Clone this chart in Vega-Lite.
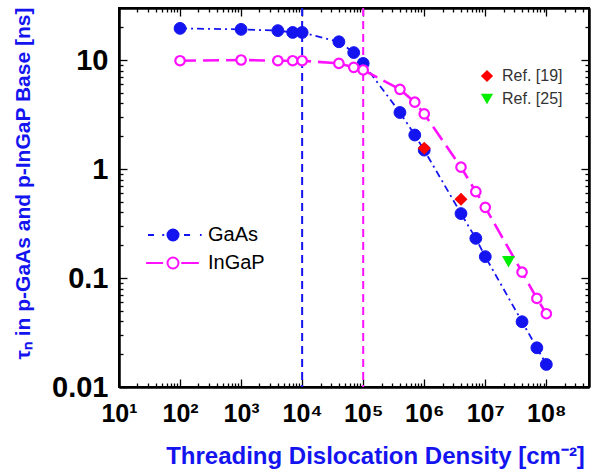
{
  "$schema": "https://vega.github.io/schema/vega-lite/v6.json",
  "width": 470,
  "height": 379,
  "autosize": "none",
  "padding": {"left": 119, "top": 8, "right": 22, "bottom": 89},
  "background": "white",
  "config": {
    "font": "Liberation Sans",
    "view": {"stroke": "black", "strokeWidth": 2},
    "axis": {"grid": false}
  },
  "datasets": {
    "meas": [
      {"series": "GaAs", "density": 100, "tau": 19.5},
      {"series": "GaAs", "density": 1000, "tau": 19.1},
      {"series": "GaAs", "density": 4000, "tau": 18.6},
      {"series": "GaAs", "density": 7000, "tau": 17.9},
      {"series": "GaAs", "density": 10000, "tau": 17.9},
      {"series": "GaAs", "density": 40000, "tau": 14.7},
      {"series": "GaAs", "density": 70000, "tau": 11.7},
      {"series": "GaAs", "density": 100000, "tau": 9.3},
      {"series": "GaAs", "density": 400000, "tau": 3.3},
      {"series": "GaAs", "density": 700000, "tau": 2.05},
      {"series": "GaAs", "density": 1000000, "tau": 1.49},
      {"series": "GaAs", "density": 4000000, "tau": 0.39},
      {"series": "GaAs", "density": 7000000, "tau": 0.231},
      {"series": "GaAs", "density": 10000000, "tau": 0.157},
      {"series": "GaAs", "density": 40000000, "tau": 0.0397},
      {"series": "GaAs", "density": 70000000, "tau": 0.0229},
      {"series": "GaAs", "density": 100000000, "tau": 0.0161},
      {"series": "InGaP", "density": 100, "tau": 9.85},
      {"series": "InGaP", "density": 1000, "tau": 10},
      {"series": "InGaP", "density": 4000, "tau": 9.85},
      {"series": "InGaP", "density": 7000, "tau": 9.85},
      {"series": "InGaP", "density": 10000, "tau": 9.85},
      {"series": "InGaP", "density": 40000, "tau": 9.3},
      {"series": "InGaP", "density": 70000, "tau": 8.57},
      {"series": "InGaP", "density": 100000, "tau": 8.1},
      {"series": "InGaP", "density": 400000, "tau": 5.38},
      {"series": "InGaP", "density": 700000, "tau": 4.1},
      {"series": "InGaP", "density": 1000000, "tau": 3.2},
      {"series": "InGaP", "density": 4000000, "tau": 1.04},
      {"series": "InGaP", "density": 7000000, "tau": 0.62},
      {"series": "InGaP", "density": 10000000, "tau": 0.445},
      {"series": "InGaP", "density": 40000000, "tau": 0.113},
      {"series": "InGaP", "density": 70000000, "tau": 0.065},
      {"series": "InGaP", "density": 100000000, "tau": 0.047}
    ],
    "refs": [
      {"source": "Ref. [19]", "density": 1000000, "tau": 1.55},
      {"source": "Ref. [19]", "density": 4000000, "tau": 0.527},
      {"source": "Ref. [25]", "density": 24000000, "tau": 0.141}
    ],
    "vlines": [
      {"series": "GaAs", "density": 10000},
      {"series": "InGaP", "density": 100000}
    ]
  },
  "layer": [
    {
      "data": {"name": "meas"},
      "transform": [{"filter": "datum.series === 'GaAs'"}],
      "mark": {"type": "line", "color": "#1414f0", "strokeWidth": 1.8, "strokeDash": [7, 4, 2, 4]},
      "encoding": {
        "x": {"field": "density", "type": "quantitative", "scale": {"type": "log", "domain": [10, 500000000], "nice": false},
          "axis": {"orient": "bottom", "values": [10, 100, 1000, 10000, 100000, 1000000, 10000000, 100000000],
            "labelExpr": "'10' + ['⁰','¹','²','³','⁴','⁵','⁶','⁷','⁸'][round(log(datum.value)/LN10)]",
            "tickColor": "black", "tickSize": -8, "tickWidth": 1.3, "domainColor": "black", "domainWidth": 2,
            "labelFontSize": 25, "labelFontWeight": "bold", "labelColor": "black", "labelPadding": 22, "labelOverlap": false, "labelFlush": false,
            "title": "Threading Dislocation Density [cm⁻²]", "titleFontSize": 24, "titleFontWeight": "bold", "titleColor": "#1414f0",
            "titleX": 256, "titleY": 76, "titleBaseline": "alphabetic", "titleAnchor": "middle", "titleAlign": "center"}},
        "y": {"field": "tau", "type": "quantitative", "scale": {"type": "log", "domain": [0.01, 30], "nice": false},
          "axis": {"orient": "left", "values": [0.01, 0.1, 1, 10],
            "labelExpr": "datum.value < 0.05 ? '0.01' : datum.value < 0.5 ? '0.1' : datum.value < 5 ? '1' : '10'",
            "tickColor": "black", "tickSize": -8, "tickWidth": 1.3, "domainColor": "black", "domainWidth": 2,
            "labelFontSize": 29, "labelFontWeight": "bold", "labelColor": "black", "labelPadding": 19, "labelOverlap": false, "labelFlush": false,
            "title": "τₙ in p-GaAs and p-InGaP Base [ns]", "titleFontSize": 21, "titleFontWeight": "bold", "titleColor": "#1414f0",
            "titleX": -96, "titleY": 175, "titleAngle": -90, "titleBaseline": "middle", "titleAlign": "center"}}
      }
    },
    {
      "data": {"name": "meas"},
      "transform": [{"filter": "datum.series === 'InGaP'"}],
      "mark": {"type": "line", "color": "#ff10ff", "strokeWidth": 2.6, "strokeDash": [16, 7]},
      "encoding": {
        "x": {"field": "density", "type": "quantitative", "scale": {"type": "log", "domain": [10, 500000000], "nice": false},
          "axis": {"orient": "top", "labelExpr": "''", "title": null, "tickColor": "black", "tickSize": -8, "tickWidth": 1.3, "domainColor": "black", "domainWidth": 2,
            "values": [10, 100, 1000, 10000, 100000, 1000000, 10000000, 100000000]}},
        "y": {"field": "tau", "type": "quantitative", "scale": {"type": "log", "domain": [0.01, 30], "nice": false},
          "axis": {"orient": "right", "labelExpr": "''", "title": null, "tickColor": "black", "tickSize": -8, "tickWidth": 1.3, "domainColor": "black", "domainWidth": 2,
            "values": [0.01, 0.1, 1, 10]}}
      }
    },
    {
      "data": {"name": "vlines"},
      "mark": {"type": "rule", "strokeWidth": 2, "strokeDash": [8, 5]},
      "encoding": {
        "x": {"field": "density", "type": "quantitative", "scale": {"type": "log", "domain": [10, 500000000], "nice": false}, "axis": null},
        "color": {"field": "series", "type": "nominal", "scale": {"domain": ["GaAs", "InGaP"], "range": ["#1414f0", "#ff10ff"]}, "legend": null}
      }
    },
    {
      "data": {"name": "meas"},
      "mark": {"type": "point", "opacity": 1},
      "encoding": {
        "x": {"field": "density", "type": "quantitative", "scale": {"type": "log", "domain": [10, 500000000], "nice": false},
          "axis": {"orient": "bottom", "labelExpr": "''", "title": null, "tickColor": "black", "tickSize": -4, "tickWidth": 1.3, "domainColor": "black", "domainWidth": 2,
            "values": [20,30,40,50,60,70,80,90,200,300,400,500,600,700,800,900,2000,3000,4000,5000,6000,7000,8000,9000,20000,30000,40000,50000,60000,70000,80000,90000,200000,300000,400000,500000,600000,700000,800000,900000,2000000,3000000,4000000,5000000,6000000,7000000,8000000,9000000,20000000,30000000,40000000,50000000,60000000,70000000,80000000,90000000,200000000,300000000,400000000]}},
        "y": {"field": "tau", "type": "quantitative", "scale": {"type": "log", "domain": [0.01, 30], "nice": false},
          "axis": {"orient": "left", "labelExpr": "''", "title": null, "tickColor": "black", "tickSize": -4, "tickWidth": 1.3, "domainColor": "black", "domainWidth": 2,
            "values": [0.02,0.03,0.04,0.05,0.06,0.07,0.08,0.09,0.2,0.3,0.4,0.5,0.6,0.7,0.8,0.9,2,3,4,5,6,7,8,9,20]}},
        "color": {"field": "series", "type": "nominal", "scale": {"domain": ["GaAs", "InGaP"], "range": ["#1414f0", "#ff10ff"]}, "legend": null},
        "fill": {"field": "series", "type": "nominal", "scale": {"domain": ["GaAs", "InGaP"], "range": ["#1414f0", "white"]}, "legend": null},
        "size": {"condition": {"test": "datum.series === 'GaAs'", "value": 140}, "value": 90},
        "strokeWidth": {"condition": {"test": "datum.series === 'GaAs'", "value": 1}, "value": 2.2}
      }
    },
    {
      "data": {"name": "refs"},
      "mark": {"type": "point", "filled": true, "opacity": 1, "size": 170},
      "encoding": {
        "x": {"field": "density", "type": "quantitative", "scale": {"type": "log", "domain": [10, 500000000], "nice": false},
          "axis": {"orient": "top", "labelExpr": "''", "title": null, "tickColor": "black", "tickSize": -4, "tickWidth": 1.3, "domainColor": "black", "domainWidth": 2,
            "values": [20,30,40,50,60,70,80,90,200,300,400,500,600,700,800,900,2000,3000,4000,5000,6000,7000,8000,9000,20000,30000,40000,50000,60000,70000,80000,90000,200000,300000,400000,500000,600000,700000,800000,900000,2000000,3000000,4000000,5000000,6000000,7000000,8000000,9000000,20000000,30000000,40000000,50000000,60000000,70000000,80000000,90000000,200000000,300000000,400000000]}},
        "y": {"field": "tau", "type": "quantitative", "scale": {"type": "log", "domain": [0.01, 30], "nice": false},
          "axis": {"orient": "right", "labelExpr": "''", "title": null, "tickColor": "black", "tickSize": -4, "tickWidth": 1.3, "domainColor": "black", "domainWidth": 2,
            "values": [0.02,0.03,0.04,0.05,0.06,0.07,0.08,0.09,0.2,0.3,0.4,0.5,0.6,0.7,0.8,0.9,2,3,4,5,6,7,8,9,20]}},
        "color": {"field": "source", "type": "nominal", "scale": {"domain": ["Ref. [19]", "Ref. [25]"], "range": ["#ff0000", "#00ee00"]},
          "legend": {"orient": "none", "legendX": 360, "legendY": 60, "title": null, "labelFontSize": 16, "labelColor": "#333333", "symbolSize": 150, "labelOffset": 7, "rowPadding": 7}},
        "shape": {"field": "source", "type": "nominal", "scale": {"domain": ["Ref. [19]", "Ref. [25]"], "range": ["diamond", "triangle-down"]},
          "legend": {"orient": "none", "legendX": 360, "legendY": 60, "title": null, "labelFontSize": 16, "labelColor": "#333333", "symbolSize": 150, "labelOffset": 7, "rowPadding": 7}}
      }
    },
    {
      "data": {"name": "meas"},
      "transform": [{"filter": "false"}],
      "mark": {"type": "point", "opacity": 1},
      "encoding": {
        "color": {"field": "series", "type": "nominal", "scale": {"domain": ["GaAs", "InGaP"], "range": ["#1414f0", "#ff10ff"]},
          "legend": {"orient": "none", "legendX": 44, "legendY": 217, "title": null, "labelFontSize": 20, "labelColor": "black", "symbolSize": 121, "labelOffset": 25, "rowPadding": 8, "symbolStrokeWidth": 2}},
        "fill": {"field": "series", "type": "nominal", "scale": {"domain": ["GaAs", "InGaP"], "range": ["#1414f0", "white"]},
          "legend": {"orient": "none", "legendX": 44, "legendY": 217, "title": null, "labelFontSize": 20, "labelColor": "black", "symbolSize": 121, "labelOffset": 25, "rowPadding": 8, "symbolStrokeWidth": 2}},
        "shape": {"field": "series", "type": "nominal", "scale": {"domain": ["GaAs", "InGaP"], "range": ["M-4.55,0H-3.45M-1.95,0H-1.6M1,0A1,1,0,1,1,-1,0A1,1,0,1,1,1,0ZM2,0H3.1M4.9,0H5.2", "M-4.9,0H-1.8M1,0A1,1,0,1,1,-1,0A1,1,0,1,1,1,0ZM1.5,0H4.7"]},
          "legend": {"orient": "none", "legendX": 44, "legendY": 217, "title": null, "labelFontSize": 20, "labelColor": "black", "symbolSize": 121, "labelOffset": 25, "rowPadding": 8, "symbolStrokeWidth": 2}}
      }
    }
  ],
  "resolve": {
    "axis": {"x": "independent", "y": "independent"},
    "scale": {"color": "independent", "fill": "independent", "shape": "independent"}
  }
}
